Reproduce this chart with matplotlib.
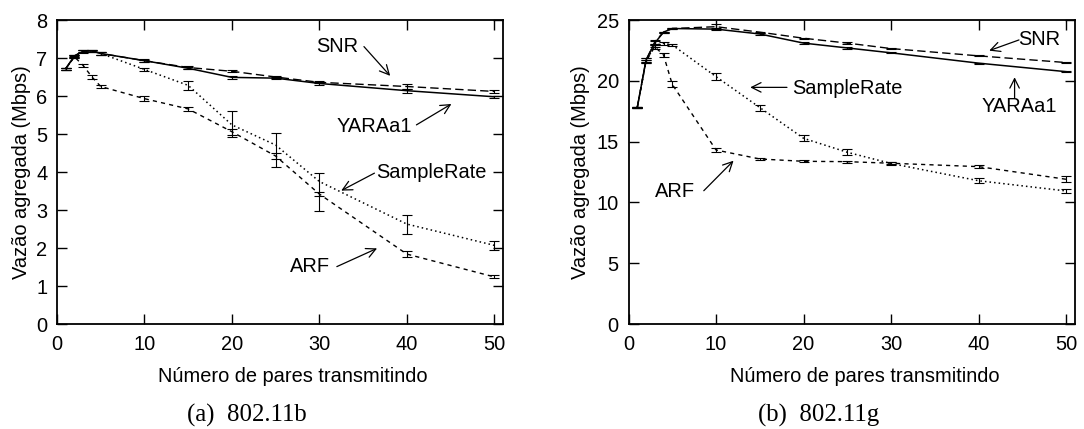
import matplotlib
matplotlib.use("Agg")
import matplotlib.pyplot as plt
import numpy as np

plt.rcParams['font.family'] = ['Liberation Sans', 'DejaVu Sans']

# ---------------- data ----------------
pairs = [1, 2, 3, 4, 5, 10, 15, 20, 25, 30, 40, 50]

# 802.11b
b_yara = [6.72, 7.05, 7.18, 7.19, 7.12, 6.93, 6.73, 6.49, 6.47, 6.33, 6.14, 5.98]
b_yara_err = [0.03, 0.03, 0.03, 0.03, 0.03, 0.03, 0.03, 0.03, 0.03, 0.03, 0.05, 0.03]
b_snr = [6.72, 7.06, 7.18, 7.19, 7.12, 6.93, 6.75, 6.65, 6.50, 6.36, 6.25, 6.12]
b_snr_err = [0.03, 0.03, 0.03, 0.03, 0.03, 0.04, 0.04, 0.03, 0.03, 0.03, 0.07, 0.03]
b_sample = [6.72, 7.04, 7.17, 7.18, 7.12, 6.70, 6.28, 5.24, 4.71, 3.75, 2.63, 2.07]
b_sample_lo = [0.03, 0.03, 0.03, 0.03, 0.03, 0.05, 0.12, 0.31, 0.57, 0.78, 0.27, 0.12]
b_sample_hi = [0.03, 0.03, 0.03, 0.03, 0.03, 0.05, 0.12, 0.36, 0.32, 0.23, 0.24, 0.12]
b_arf = [6.72, 7.03, 6.80, 6.50, 6.25, 5.93, 5.66, 5.06, 4.42, 3.42, 1.84, 1.24]
b_arf_err = [0.03, 0.03, 0.03, 0.04, 0.03, 0.06, 0.05, 0.08, 0.08, 0.06, 0.08, 0.04]

# 802.11g
g_yara = [17.8, 21.7, 23.1, 24.0, 24.3, 24.25, 23.85, 23.1, 22.7, 22.3, 21.45, 20.75]
g_yara_err = [0.05, 0.15, 0.15, 0.05, 0.05, 0.1, 0.05, 0.05, 0.05, 0.05, 0.05, 0.05]
g_snr = [17.8, 21.7, 23.2, 24.0, 24.3, 24.45, 24.0, 23.5, 23.1, 22.65, 22.05, 21.5]
g_snr_err = [0.05, 0.15, 0.15, 0.05, 0.05, 0.2, 0.05, 0.05, 0.05, 0.05, 0.05, 0.05]
g_sample = [17.8, 21.6, 22.9, 23.08, 22.95, 20.34, 17.8, 15.27, 14.12, 13.2, 11.78, 10.94]
g_sample_err = [0.05, 0.15, 0.15, 0.1, 0.1, 0.3, 0.25, 0.25, 0.25, 0.15, 0.2, 0.15]
g_arf = [17.8, 21.6, 22.8, 22.12, 19.7, 14.31, 13.57, 13.38, 13.35, 13.22, 12.94, 11.9]
g_arf_err = [0.05, 0.15, 0.15, 0.15, 0.25, 0.15, 0.1, 0.08, 0.08, 0.1, 0.15, 0.25]

xlabel = "Número de pares transmitindo"
ylabel = "Vazão agregada (Mbps)"
captions = ["(a)  802.11b", "(b)  802.11g"]

# ---------------- figure ----------------
W, H = 1084, 429
fig = plt.figure(figsize=(W / 100, H / 100), dpi=100)
ax1 = fig.add_axes([57 / W, 1 - 324 / H, (503 - 57) / W, (324 - 20) / H])
ax2 = fig.add_axes([628.5 / W, 1 - 324 / H, (1075 - 628.5) / W, (324 - 20) / H])

styles = {
    'yara': dict(color='black', lw=1.1, ls='-'),
    'snr': dict(color='black', lw=1.0, ls=(0, (6, 3))),
    'sample': dict(color='black', lw=1.1, ls=(0, (1, 2))),
    'arf': dict(color='black', lw=1.0, ls=(0, (3, 3))),
}
eb = dict(fmt='none', ecolor='black', elinewidth=0.8, capsize=3.5, capthick=0.8)


def draw(ax, series):
    for y, err, key in series:
        ax.plot(pairs, y, **styles[key])
        ax.errorbar(pairs, y, yerr=err, **eb)


draw(ax1, [(b_yara, b_yara_err, 'yara'), (b_snr, b_snr_err, 'snr'),
           (b_sample, [b_sample_lo, b_sample_hi], 'sample'), (b_arf, b_arf_err, 'arf')])
draw(ax2, [(g_yara, g_yara_err, 'yara'), (g_snr, g_snr_err, 'snr'),
           (g_sample, g_sample_err, 'sample'), (g_arf, g_arf_err, 'arf')])

ax1.set_ylim(0, 8)
ax1.set_yticks(range(0, 9))
ax2.set_ylim(0, 25)
ax2.set_yticks(range(0, 26, 5))

fs = 14.4
axw = [(503 - 57), (1075 - 628.5)]
ylab_x = [(22 - 57) / axw[0], (581 - 628.5) / axw[1]]
xlab_x = [(292.5 - 57) / axw[0], (865 - 628.5) / axw[1]]
for ax, yx, xx in zip([ax1, ax2], ylab_x, xlab_x):
    ax.set_xlim(0, 51)
    ax.set_xticks(range(0, 51, 10))
    ax.tick_params(direction='in', top=True, right=True, length=7, width=1,
                   labelsize=fs)
    ax.tick_params(axis='x', pad=8)
    ax.tick_params(axis='y', pad=7)
    for s in ax.spines.values():
        s.set_linewidth(1.3)
    ax.set_xlabel(xlabel, fontsize=fs, va='baseline')
    ax.xaxis.set_label_coords(xx, (324 - 382) / 304)
    ax.set_ylabel(ylabel, fontsize=fs, va='center')
    ax.yaxis.set_label_coords(yx, 0.5)

fig.text(246.5 / W, 1 - 422 / H, captions[0], ha='center', va='baseline',
         fontsize=17.8, family='Liberation Serif')
fig.text(819 / W, 1 - 422 / H, captions[1], ha='center', va='baseline',
         fontsize=17.8, family='Liberation Serif')

arrow = dict(arrowstyle='->', color='black', lw=0.9, shrinkA=0, shrinkB=0,
             mutation_scale=17)


def label(ax, text, pos, tail, head):
    ax.text(pos[0], pos[1], text, ha='center', va='center', fontsize=fs)
    ax.annotate('', xy=head, xytext=tail, arrowprops=arrow)


label(ax1, 'SNR', (32.0, 7.30), (35.1, 7.30), (38.1, 6.53))
label(ax1, 'YARAa1', (36.3, 5.19), (41.1, 5.24), (45.1, 5.79))
label(ax1, 'SampleRate', (42.8, 3.98), (36.3, 3.97), (32.5, 3.51))
label(ax1, 'ARF', (28.9, 1.51), (32.0, 1.51), (36.6, 1.99))

label(ax2, 'SampleRate', (25.0, 19.4), (18.1, 19.46), (13.9, 19.46))
label(ax2, 'ARF', (5.3, 10.9), (8.6, 10.96), (12.0, 13.43))
label(ax2, 'SNR', (46.9, 23.41), (44.6, 23.36), (41.2, 22.48))
label(ax2, 'YARAa1', (44.65, 17.87), (44.1, 18.56), (44.1, 20.29))

fig.savefig('out.png', dpi=100)
